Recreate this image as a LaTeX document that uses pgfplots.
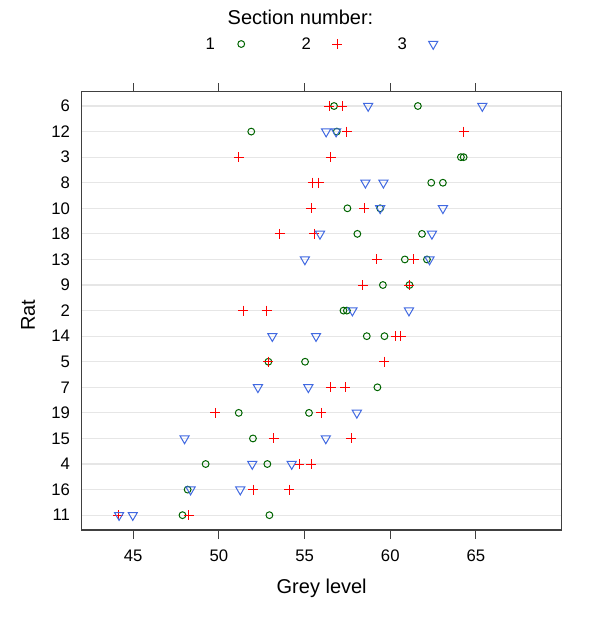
\documentclass[border=0pt]{standalone}
\usepackage{fontspec}
\setmainfont{Liberation Sans}
\usepackage{pgfplots}
\pgfplotsset{compat=1.18}
\definecolor{dgreen}{HTML}{006400}
\definecolor{rblue}{HTML}{4169E1}
\definecolor{gridgray}{HTML}{E6E6E6}
\definecolor{boxgray}{HTML}{404040}

\begin{document}
\begin{tikzpicture}
\useasboundingbox (0,0) rectangle (600pt,625pt);
\begin{axis}[
  at={(81.7pt,95pt)}, anchor=south west,
  scale only axis, width=480pt, height=438.3pt,
  xmin=42, xmax=70, ymin=0.42, ymax=17.56,
  xtick={45,50,55,60,65},
  ytick={1,...,17},
  yticklabels={11,16,4,15,19,7,5,14,2,9,13,18,10,8,3,12,6},
  xtick pos=both, xticklabel pos=lower,
  ytick pos=left,
  tick align=outside, major tick length=8.5pt,
  x tick style={boxgray, line width=1pt},
  y tick style={draw=none},
  axis line style={boxgray, line width=1.1pt},
  ymajorgrids, grid style={gridgray, line width=1.2pt},
  /pgf/number format/assume math mode=true,
  tick label style={font=\fontsize{16.7}{20}\selectfont},
  xticklabel style={inner sep=0pt, anchor=north, yshift=-11pt},
  yticklabel style={inner sep=0pt, anchor=east, xshift=-3pt},
  xlabel={Grey level}, ylabel={Rat},
  label style={font=\fontsize{20}{24}\selectfont, inner sep=0pt},
  xlabel style={at={(axis description cs:0.5,-0.1335)}, anchor=center},
  ylabel style={at={(axis description cs:-0.1119,0.4905)}, anchor=center, rotate=0},
  legend columns=3,
  legend plot pos=right,
  legend style={at={(axis description cs:0.2576,1.1088)}, anchor=west,
                draw=none, fill=none, inner sep=0pt, column sep=0pt,
                nodes={inner sep=0pt},
                font=\fontsize{16.7}{20}\selectfont},
  legend image code/.code={
    \path[draw=none] (0pt,0pt) -- (86.7pt,0pt);
    \draw[#1] plot[only marks] coordinates {(26.4pt,0pt)};
  },
  clip=false,
]
% section 1
\addplot[only marks, mark=o, mark size=3.4pt, draw=dgreen, line width=1pt]
  coordinates {
  (56.72,17) (61.61,17)
  (51.89,16) (56.88,16)
  (64.12,15) (64.28,15)
  (62.39,14) (63.07,14)
  (57.50,13) (59.41,13)
  (58.08,12) (61.85,12)
  (60.85,11) (62.14,11)
  (59.57,10) (61.12,10)
  (57.27,9) (57.47,9)
  (58.63,8) (59.66,8)
  (52.89,7) (55.03,7)
  (59.25,6)
  (51.16,5) (55.26,5)
  (51.99,4)
  (49.23,3) (52.83,3)
  (48.18,2)
  (47.88,1) (52.95,1)
  };
\addlegendentry{1}
% section 2
\addplot[only marks, mark=+, mark size=5pt, draw=red, line width=1pt]
  coordinates {
  (56.43,17) (57.21,17)
  (57.45,16) (64.28,16)
  (51.17,15) (56.53,15)
  (55.48,14) (55.82,14)
  (55.40,13) (58.48,13)
  (53.55,12) (55.56,12)
  (59.22,11) (61.36,11)
  (58.40,10) (61.12,10)
  (51.43,9) (52.79,9)
  (60.33,8) (60.62,8)
  (52.89,7) (59.66,7)
  (56.53,6) (57.37,6)
  (49.79,5) (55.96,5)
  (53.20,4) (57.72,4)
  (54.70,3) (55.38,3)
  (52.01,2) (54.10,2)
  (44.12,1) (48.25,1)
  };
\addlegendentry{2}
% section 3
\addplot[only marks, mark=triangle, mark size=5.3pt, draw=rblue, line width=1pt,
         mark options={rotate=180}]
  coordinates {
  (58.71,17) (65.37,17)
  (56.26,16) (56.84,16)
  (58.55,14) (59.60,14)
  (59.41,13) (63.07,13)
  (55.90,12) (62.43,12)
  (55.02,11) (62.29,11)
  (57.79,9) (61.09,9)
  (53.12,8) (55.67,8)
  (52.28,6) (55.22,6)
  (58.05,5)
  (48.00,4) (56.24,4)
  (51.95,3) (54.25,3)
  (48.35,2) (51.25,2)
  (44.18,1) (44.98,1)
  };
\addlegendentry{3}
\node[font=\fontsize{20}{24}\selectfont, inner sep=0pt, anchor=center]
  at (axis description cs:0.4558,1.1704) {Section number:};
\end{axis}
\end{tikzpicture}
\end{document}
